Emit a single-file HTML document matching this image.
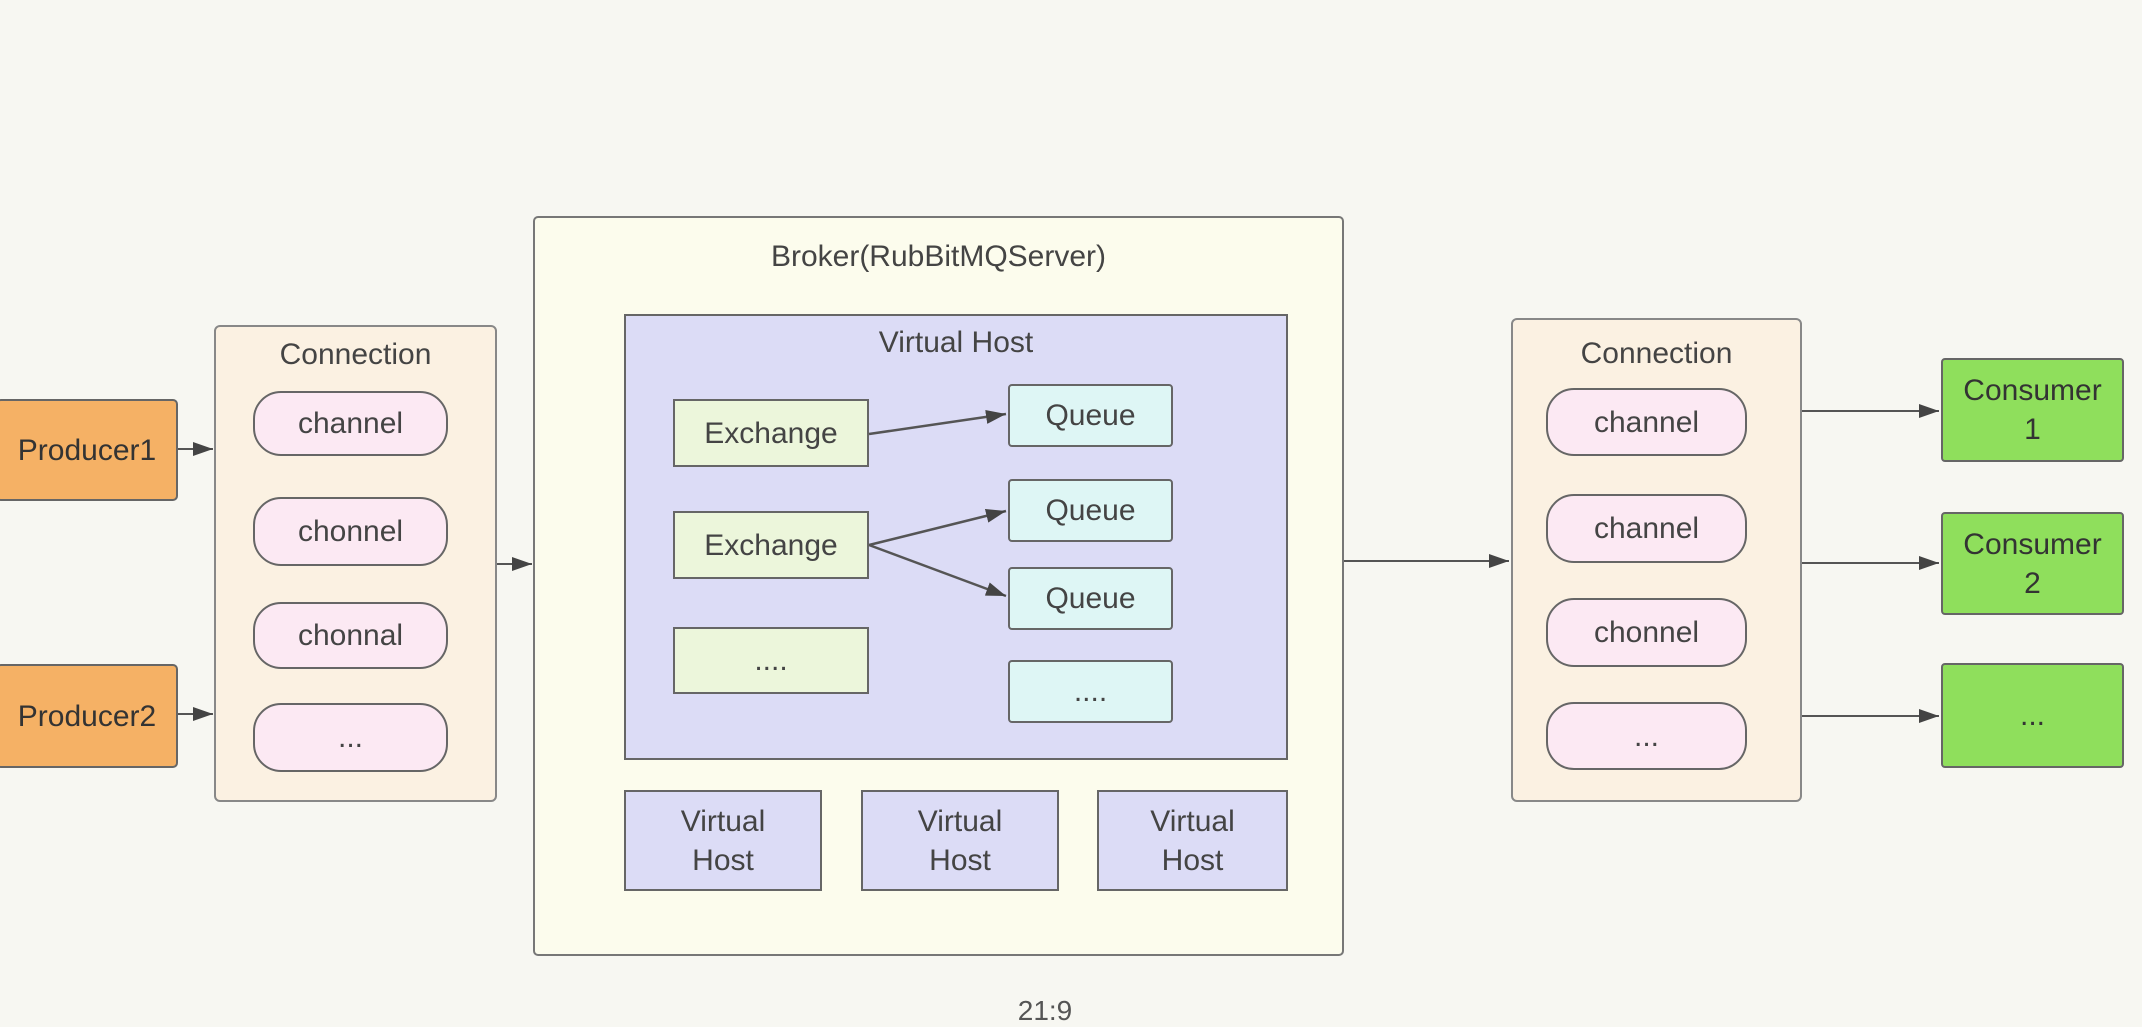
<!DOCTYPE html>
<html><head><meta charset="utf-8"><style>
body{margin:0;width:2142px;height:1024px;background:#f7f7f2;font-family:"Liberation Sans",sans-serif;position:relative;overflow:hidden;color:#444}
.b{position:absolute;box-sizing:border-box;border:2px solid #666;display:flex;align-items:center;justify-content:center;text-align:center;font-size:30px;line-height:1.3}
.t{position:absolute;font-size:30px;color:#444;text-align:center}
.prod{background:#f5b165;border-radius:5px;color:#333}
.conn{background:#fbf1e2;border-radius:6px;border-color:#888}
.ch{background:#fce9f3;border-radius:28px}
.brk{background:#fcfced;border-radius:5px;border-color:#777}
.vh{background:#dcdcf6;border-color:#666}
.ex{background:#ecf6db}
.q{background:#def6f5;border-radius:4px}
.cons{background:#8fdf5c;border-radius:4px;color:#333}
</style></head><body>
<div class="b prod" style="left:-4px;top:399px;width:182px;height:102px">Producer1</div>
<div class="b prod" style="left:-4px;top:664px;width:182px;height:104px">Producer2</div>

<div class="b conn" style="left:214px;top:325px;width:283px;height:477px"></div>
<div class="t" style="left:214px;top:338px;width:283px">Connection</div>
<div class="b ch" style="left:253px;top:391px;width:195px;height:65px">channel</div>
<div class="b ch" style="left:253px;top:497px;width:195px;height:69px">chonnel</div>
<div class="b ch" style="left:253px;top:602px;width:195px;height:67px">chonnal</div>
<div class="b ch" style="left:253px;top:703px;width:195px;height:69px">...</div>

<div class="b brk" style="left:533px;top:216px;width:811px;height:740px"></div>
<div class="t" style="left:533px;top:240px;width:811px">Broker(RubBitMQServer)</div>
<div class="b vh" style="left:624px;top:314px;width:664px;height:446px"></div>
<div class="t" style="left:624px;top:326px;width:664px">Virtual Host</div>
<div class="b ex" style="left:673px;top:399px;width:196px;height:68px">Exchange</div>
<div class="b ex" style="left:673px;top:511px;width:196px;height:68px">Exchange</div>
<div class="b ex" style="left:673px;top:627px;width:196px;height:67px">....</div>
<div class="b q" style="left:1008px;top:384px;width:165px;height:63px">Queue</div>
<div class="b q" style="left:1008px;top:479px;width:165px;height:63px">Queue</div>
<div class="b q" style="left:1008px;top:567px;width:165px;height:63px">Queue</div>
<div class="b q" style="left:1008px;top:660px;width:165px;height:63px">....</div>
<div class="b vh" style="left:624px;top:790px;width:198px;height:101px">Virtual<br>Host</div>
<div class="b vh" style="left:861px;top:790px;width:198px;height:101px">Virtual<br>Host</div>
<div class="b vh" style="left:1097px;top:790px;width:191px;height:101px">Virtual<br>Host</div>

<div class="b conn" style="left:1511px;top:318px;width:291px;height:484px"></div>
<div class="t" style="left:1511px;top:337px;width:291px">Connection</div>
<div class="b ch" style="left:1546px;top:388px;width:201px;height:68px">channel</div>
<div class="b ch" style="left:1546px;top:494px;width:201px;height:69px">channel</div>
<div class="b ch" style="left:1546px;top:598px;width:201px;height:69px">chonnel</div>
<div class="b ch" style="left:1546px;top:702px;width:201px;height:68px">...</div>

<div class="b cons" style="left:1941px;top:358px;width:183px;height:104px">Consumer<br>1</div>
<div class="b cons" style="left:1941px;top:512px;width:183px;height:103px">Consumer<br>2</div>
<div class="b cons" style="left:1941px;top:663px;width:183px;height:105px">...</div>

<div class="t" style="left:985px;top:995px;width:120px;font-size:28px;color:#555">21:9</div>

<svg width="2142" height="1024" style="position:absolute;left:0;top:0">
<defs>
<marker id="A" markerWidth="20" markerHeight="14" refX="20" refY="7" orient="auto" markerUnits="userSpaceOnUse"><path d="M0,0L20,7L0,14z" fill="#444"/></marker></defs>
<g stroke="#555" stroke-width="2" fill="none" marker-end="url(#A)">
<line x1="178" y1="449" x2="213" y2="449"/>
<line x1="178" y1="714" x2="213" y2="714"/>
<line x1="497" y1="564" x2="532" y2="564"/>
<line x1="1344" y1="561" x2="1509" y2="561"/>
<line x1="1802" y1="411" x2="1939" y2="411"/>
<line x1="1802" y1="563" x2="1939" y2="563"/>
<line x1="1802" y1="716" x2="1939" y2="716"/>
<line x1="869" y1="434" x2="1006" y2="414" stroke-width="2.5"/>
<line x1="869" y1="545" x2="1006" y2="511" stroke-width="2.5"/>
<line x1="869" y1="545" x2="1006" y2="596" stroke-width="2.5"/>
</g></svg>
</body></html>
